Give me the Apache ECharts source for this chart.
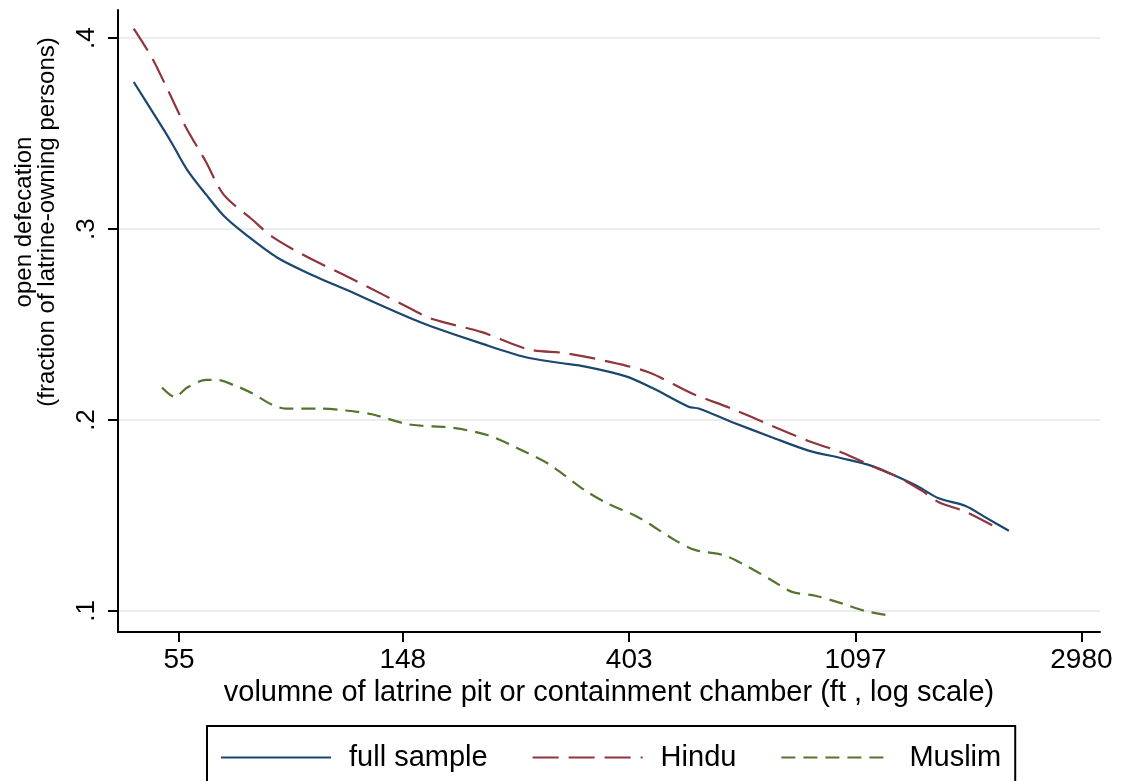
<!DOCTYPE html>
<html>
<head>
<meta charset="utf-8">
<script src="https://cdn.jsdelivr.net/npm/echarts@6/dist/echarts.min.js"></script>
<style>
  html, body { margin: 0; padding: 0; background: #fff; }
  #chart { width: 1121px; height: 781px; }
</style>
</head>
<body>
<div id="chart"></div>
<script>
// ===== Data =====
// x: pit volume in ft^3 (plotted on log scale), y: open defecation fraction
const xTickLabels = [55, 148, 403, 1097, 2980];
const yTickValues = [0.1, 0.2, 0.3, 0.4];

const fullVol = [45, 49, 53, 57, 62, 67, 74, 85, 99, 118, 137, 154, 168, 210, 254, 295, 332, 396, 445, 524, 548, 634, 757, 891, 1032, 1178, 1327, 1451, 1585, 1785, 1950, 2162];
const fullVal = [0.377, 0.361, 0.346, 0.331, 0.318, 0.307, 0.297, 0.285, 0.276, 0.267, 0.259, 0.253, 0.249, 0.240, 0.233, 0.230, 0.228, 0.223, 0.217, 0.207, 0.206, 0.199, 0.191, 0.184, 0.180, 0.176, 0.170, 0.165, 0.159, 0.155, 0.149, 0.142];

const hinduVol = [45, 48.7, 52.5, 56.5, 62, 67, 76, 83, 96, 118, 137, 154, 168, 210, 258, 304, 362, 439, 531, 634, 757, 891, 1032, 1178, 1327, 1470, 1585, 1785, 2067];
const hinduVal = [0.405, 0.390, 0.372, 0.354, 0.335, 0.318, 0.305, 0.296, 0.286, 0.274, 0.265, 0.258, 0.253, 0.246, 0.237, 0.235, 0.231, 0.225, 0.214, 0.206, 0.197, 0.189, 0.183, 0.176, 0.170, 0.163, 0.157, 0.152, 0.143];

const muslimVol = [51, 54, 57, 62, 65, 70.5, 76, 83, 88, 102, 115, 129, 150, 161, 184, 216, 247, 282, 332, 368, 420, 494, 539, 616, 683, 758, 828, 918, 1032, 1145, 1252];
const muslimVal = [0.217, 0.212, 0.217, 0.221, 0.221, 0.218, 0.214, 0.208, 0.206, 0.206, 0.205, 0.203, 0.198, 0.197, 0.196, 0.192, 0.185, 0.177, 0.163, 0.156, 0.149, 0.137, 0.132, 0.129, 0.123, 0.116, 0.110, 0.108, 0.104, 0.100, 0.098];

// ===== Helpers =====
const FONT = '"Liberation Sans", Arial, sans-serif';
const toPairs = (xs, ys) => xs.map((v, i) => [Math.log(v), ys[i]]);
const xTickPos = xTickLabels.map(v => Math.log(v));

function xLabel(val) {
  let best = 0;
  xTickPos.forEach((p, i) => { if (Math.abs(p - val) < Math.abs(xTickPos[best] - val)) best = i; });
  return String(xTickLabels[best]);
}

function lineSeries(name, xs, ys, color, dash) {
  return {
    name, type: 'line', symbol: 'none', showSymbol: false,
    smooth: 0.3,
    lineStyle: { color, width: 2.2, type: dash || 'solid' },
    itemStyle: { color },
    data: toPairs(xs, ys)
  };
}

// ===== Chart =====
const chart = echarts.init(document.getElementById('chart'));

chart.setOption({
  animation: false,
  backgroundColor: '#fff',
  grid: { left: 118, right: 21, top: 10, bottom: 149, outerBoundsMode: 'none' },
  xAxis: {
    type: 'value',
    min: 3.737,
    max: 8.082,
    name: 'volumne of latrine pit or containment chamber (ft , log scale)',
    nameLocation: 'middle',
    nameGap: 46,
    nameTextStyle: { fontFamily: FONT, fontSize: 29, color: '#000' },
    axisLine: { onZero: false, lineStyle: { color: '#000', width: 2 } },
    axisTick: { customValues: xTickPos, length: 10, lineStyle: { color: '#000', width: 2 } },
    axisLabel: { customValues: xTickPos, formatter: xLabel, margin: 14, fontFamily: FONT, fontSize: 28, color: '#000' },
    splitLine: { show: false }
  },
  yAxis: {
    type: 'value',
    min: 0.089,
    max: 0.4147,
    axisLine: { show: true, onZero: false, lineStyle: { color: '#000', width: 2 } },
    axisTick: { show: true, customValues: yTickValues, length: 10, lineStyle: { color: '#000', width: 2 } },
    axisLabel: {
      customValues: yTickValues, rotate: 90, margin: 18,
      formatter: v => String(Math.round(v * 10) / 10).replace(/^0/, ''),
      fontFamily: FONT, fontSize: 26, color: '#000'
    },
    splitLine: { show: true, lineStyle: { color: '#ececec', width: 2 } }
  },
  legend: {
    left: 207,
    top: 726,
    orient: 'horizontal',
    padding: [17, 14, 40, 13],
    itemGap: 44,
    itemWidth: 110,
    itemHeight: 28,
    borderColor: '#000',
    borderWidth: 2,
    itemStyle: { opacity: 0 },
    textStyle: { fontFamily: FONT, fontSize: 29, color: '#000', padding: [0, 0, 0, 13] },
    data: ['full sample', 'Hindu', 'Muslim']
  },
  graphic: [{
    type: 'text',
    x: 36,
    y: 222,
    rotation: Math.PI / 2,
    style: {
      text: 'open defecation\n(fraction of latrine-owning persons)',
      font: '24px ' + FONT,
      fill: '#000',
      align: 'center',
      verticalAlign: 'middle',
      lineHeight: 23
    }
  }],
  series: [
    lineSeries('full sample', fullVol, fullVal, '#1a476f'),
    lineSeries('Hindu', hinduVol, hinduVal, '#90353b', [26, 10]),
    lineSeries('Muslim', muslimVol, muslimVal, '#55752f', [14, 8])
  ]
});
</script>
</body>
</html>
